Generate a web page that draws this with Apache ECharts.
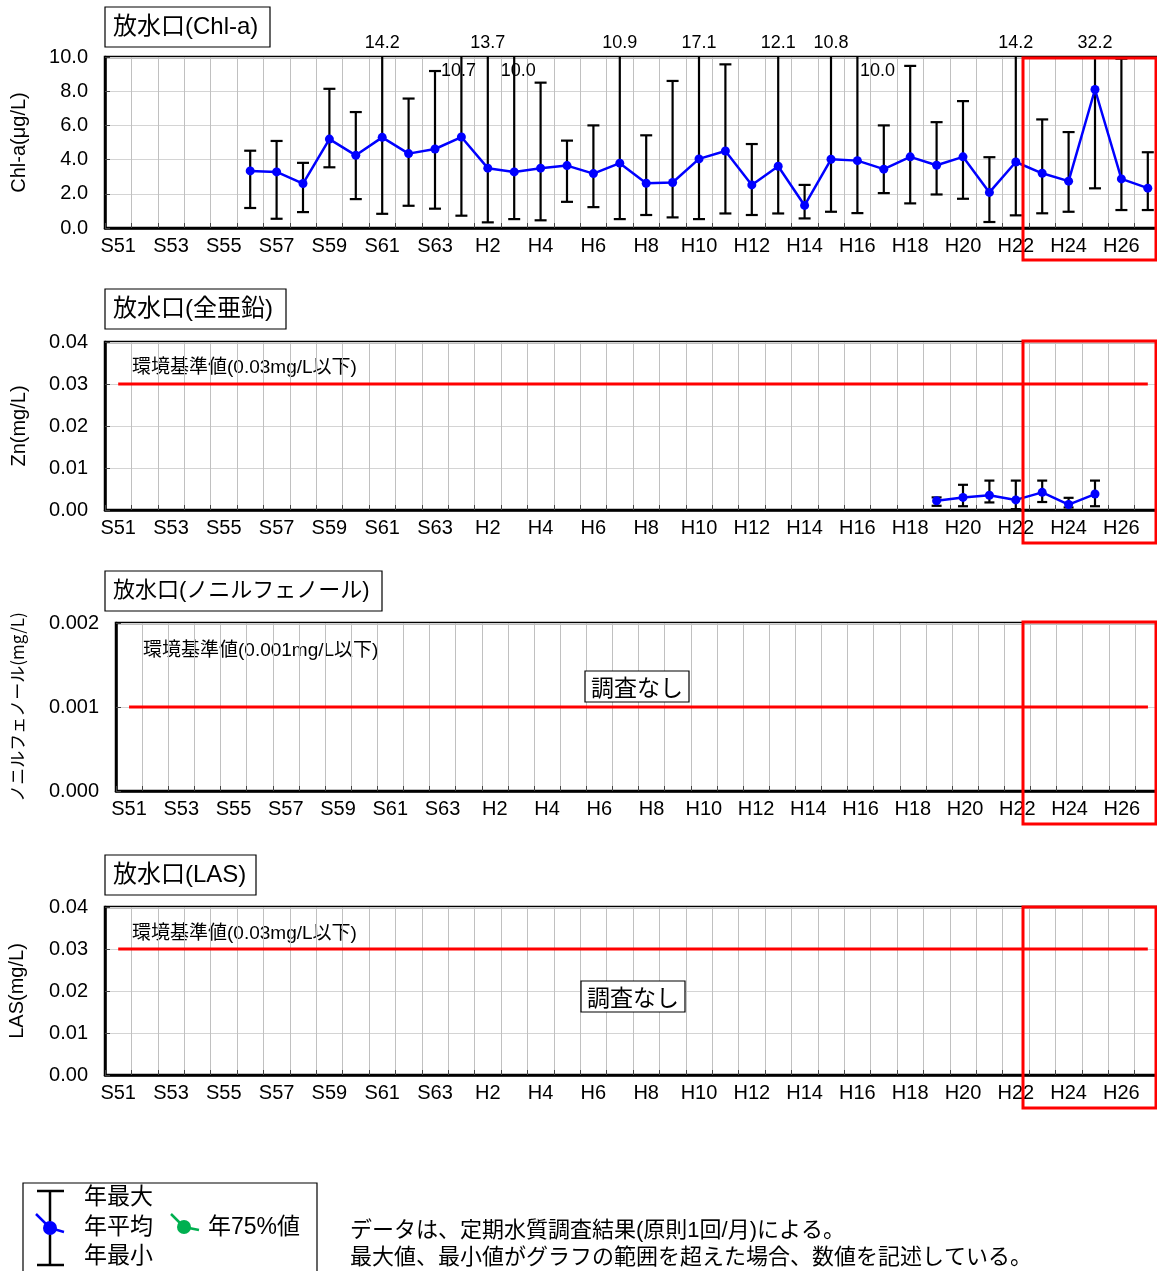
<!DOCTYPE html>
<html>
<head>
<meta charset="utf-8">
<script src="https://cdn.jsdelivr.net/npm/echarts@6/dist/echarts.min.js"></script>
<style>
html, body { margin: 0; padding: 0; background: #fff; overflow: hidden; }
#chart { width: 1162px; height: 1271px; }
</style>
</head>
<body>
<div id="chart"></div>
<script>
// fiscal years on the x axis
const categories = [
  'S51', 'S52', 'S53', 'S54', 'S55', 'S56', 'S57', 'S58', 'S59', 'S60', 'S61', 'S62', 'S63',
  'H1', 'H2', 'H3', 'H4', 'H5', 'H6', 'H7', 'H8', 'H9', 'H10', 'H11', 'H12', 'H13', 'H14',
  'H15', 'H16', 'H17', 'H18', 'H19', 'H20', 'H21', 'H22', 'H23', 'H24', 'H25', 'H26', 'H27',
];

// Chl-a (ug/L), S51..H27
const chlMean = [
  null, null, null, null, null, 3.34, 3.28, 2.60, 5.20, 4.25, 5.30, 4.35, 4.62,
  5.32, 3.50, 3.28, 3.50, 3.65, 3.18, 3.79, 2.62, 2.66, 4.04, 4.50, 2.52, 3.61, 1.32,
  4.02, 3.94, 3.44, 4.16, 3.67, 4.16, 2.08, 3.86, 3.20, 2.74, 8.10, 2.87, 2.33,
];
const chlMax = [
  null, null, null, null, null, 4.52, 5.09, 3.81, 8.14, 6.78, 14.2, 7.57, 9.18,
  10.7, 13.7, 10.0, 8.50, 5.11, 6.00, 10.9, 5.42, 8.60, 17.1, 9.57, 4.91, 12.1, 2.52,
  10.8, 10.0, 6.00, 9.48, 6.19, 7.42, 4.14, 14.2, 6.35, 5.61, 32.2, 9.90, 4.43,
];
const chlMin = [
  null, null, null, null, null, 1.17, 0.54, 0.93, 3.55, 1.69, 0.83, 1.30, 1.13,
  0.72, 0.33, 0.52, 0.45, 1.53, 1.22, 0.52, 0.76, 0.62, 0.52, 0.85, 0.76, 0.85, 0.56,
  0.95, 0.87, 2.04, 1.44, 1.96, 1.71, 0.35, 0.74, 0.86, 0.95, 2.32, 1.05, 1.05,
];
// max labels drawn inside the frame instead of above it (x shift in px)
const chlLabelInside = { H1: -3, H3: 4, H16: 20 };

// total zinc (mg/L), S51..H27
const znMean = [
  null, null, null, null, null, null, null, null, null, null, null, null, null,
  null, null, null, null, null, null, null, null, null, null, null, null, null, null,
  null, null, null, null, 0.0022, 0.0030, 0.0035, 0.0024, 0.0042, 0.0013, 0.0038, null, null,
];
const znMax = [
  null, null, null, null, null, null, null, null, null, null, null, null, null,
  null, null, null, null, null, null, null, null, null, null, null, null, null, null,
  null, null, null, null, 0.0030, 0.0060, 0.0070, 0.0070, 0.0070, 0.0029, 0.0070, null, null,
];
const znMin = [
  null, null, null, null, null, null, null, null, null, null, null, null, null,
  null, null, null, null, null, null, null, null, null, null, null, null, null, null,
  null, null, null, null, 0.0010, 0.0009, 0.0018, 0.0002, 0.0019, 0.0006, 0.0009, null, null,
];

// environmental standards: zinc, nonylphenol, LAS
const standardValues = [0.03, 0.001, 0.03];

const LATIN = "'Liberation Sans', 'Noto Sans CJK JP', sans-serif";
const JP = "'Noto Sans CJK JP', 'Liberation Sans', sans-serif";

const chart = echarts.init(document.getElementById('chart'));

const grids = [
  { left: 105, top: 57, right: 1, height: 171 },
  { left: 105, top: 342, right: 1, height: 168 },
  { left: 116, top: 623, right: 1, height: 168 },
  { left: 105, top: 907, right: 1, height: 168 },
];

const yCfg = [
  { max: 10, interval: 2, digits: 1, name: 'Chl-a(μg/L)', nameGap: 76, font: LATIN, size: 20 },
  { max: 0.04, interval: 0.01, digits: 2, name: 'Zn(mg/L)', nameGap: 76, font: LATIN, size: 20 },
  { max: 0.002, interval: 0.001, digits: 3, name: 'ノニルフェノール(mg/L)', nameGap: 90, font: JP, size: 17 },
  { max: 0.04, interval: 0.01, digits: 2, name: 'LAS(mg/L)', nameGap: 78, font: LATIN, size: 20 },
];

function errorBars(idx, mins, maxs, axisMax, capHalf, insideLabels) {
  const data = [];
  categories.forEach((c, i) => {
    if (mins[i] != null) data.push([i, mins[i], maxs[i]]);
  });
  return {
    type: 'custom',
    xAxisIndex: idx,
    yAxisIndex: idx,
    z: 2,
    clip: false,
    silent: true,
    data,
    encode: { x: 0, y: [1, 2] },
    renderItem(params, api) {
      const i = api.value(0);
      const lo = api.value(1);
      const hi = api.value(2);
      const top = api.coord([i, Math.min(hi, axisMax)]);
      const bot = api.coord([i, lo]);
      const x = top[0];
      const st = { stroke: '#000', lineWidth: 2.2 };
      const children = [
        { type: 'line', shape: { x1: x, y1: top[1], x2: x, y2: bot[1] }, style: st },
        { type: 'line', shape: { x1: x - capHalf, y1: bot[1], x2: x + capHalf, y2: bot[1] }, style: st },
      ];
      if (hi < axisMax) {
        children.push({ type: 'line', shape: { x1: x - capHalf, y1: top[1], x2: x + capHalf, y2: top[1] }, style: st });
      } else {
        const cat = categories[i];
        const inside = insideLabels && cat in insideLabels;
        children.push({
          type: 'text',
          x: x + (inside ? insideLabels[cat] : 0),
          y: inside ? top[1] + 14 : top[1] - 14,
          style: {
            text: hi.toFixed(1),
            fill: '#000',
            font: '18px ' + LATIN,
            align: 'center',
            verticalAlign: 'middle',
          },
        });
      }
      return { type: 'group', children };
    },
  };
}

function meanLine(idx, values) {
  return {
    type: 'line',
    xAxisIndex: idx,
    yAxisIndex: idx,
    z: 3,
    data: values,
    symbol: 'circle',
    symbolSize: 9,
    showSymbol: true,
    connectNulls: false,
    lineStyle: { color: '#0000FF', width: 2.5 },
    itemStyle: { color: '#0000FF' },
    silent: true,
  };
}

function standardLine(idx, value) {
  return {
    type: 'line',
    xAxisIndex: idx,
    yAxisIndex: idx,
    z: 3,
    data: categories.map(() => value),
    symbol: 'none',
    lineStyle: { color: '#FF0000', width: 3 },
    silent: true,
  };
}

function titleBox(x, y, w, text, size) {
  return [
    { type: 'rect', shape: { x, y, width: w, height: 40 }, style: { fill: '#fff', stroke: '#000', lineWidth: 1.2 } },
    { type: 'text', x: x + 8, y: y + 20, style: { text, font: size + 'px ' + LATIN, fill: '#000', verticalAlign: 'middle' } },
  ];
}

function plainText(x, y, text, size) {
  return { type: 'text', x, y, style: { text, font: size + 'px ' + LATIN, fill: '#000', verticalAlign: 'middle' } };
}

function noSurveyBox(cx, cy) {
  return [
    { type: 'rect', shape: { x: cx - 52, y: cy - 15, width: 104, height: 31 }, style: { fill: '#fff', stroke: '#000', lineWidth: 1.2 }, z: 50 },
    { type: 'text', x: cx, y: cy + 1, style: { text: '調査なし', font: '23px ' + JP, fill: '#000', align: 'center', verticalAlign: 'middle' }, z: 51 },
  ];
}

function redBox(y, h) {
  return { type: 'rect', shape: { x: 1023, y, width: 133, height: h }, style: { fill: 'none', stroke: '#FF0000', lineWidth: 3 }, z: 100 };
}

const option = {
  animation: false,
  backgroundColor: '#fff',
  grid: grids.map((g) => ({
    ...g,
    show: true,
    outerBoundsMode: 'none',
    containLabel: false,
    borderColor: '#000',
    borderWidth: 2.5,
    backgroundColor: '#fff',
  })),
  xAxis: grids.map((g, idx) => ({
    type: 'category',
    gridIndex: idx,
    data: categories,
    boundaryGap: true,
    axisLine: { lineStyle: { color: '#000', width: 2.5 } },
    axisTick: { show: true, inside: true, length: 5, interval: 0, lineStyle: { color: '#444' } },
    axisLabel: { interval: 1, color: '#000', fontSize: 20, fontFamily: LATIN, margin: 8 },
    splitLine: { show: true, interval: 0, lineStyle: { color: '#c0c0c0', width: 1 } },
  })),
  yAxis: yCfg.map((c, idx) => ({
    type: 'value',
    gridIndex: idx,
    min: 0,
    max: c.max,
    interval: c.interval,
    name: c.name,
    nameLocation: 'middle',
    nameGap: c.nameGap,
    nameRotate: 90,
    nameTextStyle: { color: '#000', fontSize: c.size, fontFamily: c.font },
    axisLine: { show: true, lineStyle: { color: '#000', width: 2.5 } },
    axisTick: { show: true, inside: true, length: 5, lineStyle: { color: '#444' } },
    axisLabel: {
      color: '#000',
      fontSize: 20,
      fontFamily: LATIN,
      margin: 17,
      formatter: (v) => v.toFixed(c.digits),
    },
    splitLine: { show: true, lineStyle: { color: '#d4d4d4', width: 1 } },
  })),
  series: [
    errorBars(0, chlMin, chlMax, 10, 6, chlLabelInside),
    meanLine(0, chlMean),
    standardLine(1, standardValues[0]),
    errorBars(1, znMin, znMax, 0.04, 5, null),
    meanLine(1, znMean),
    standardLine(2, standardValues[1]),
    standardLine(3, standardValues[2]),
  ],
  graphic: [
    ...titleBox(105, 7, 165, '放水口(Chl-a)', 24),
    ...titleBox(105, 289, 181, '放水口(全亜鉛)', 24),
    ...titleBox(105, 571, 277, '放水口(ノニルフェノール)', 22),
    ...titleBox(105, 855, 151, '放水口(LAS)', 24),
    plainText(132, 368, '環境基準値(0.03mg/L以下)', 19),
    plainText(143, 651, '環境基準値(0.001mg/L以下)', 19),
    plainText(132, 934, '環境基準値(0.03mg/L以下)', 19),
    ...noSurveyBox(637, 686),
    ...noSurveyBox(633, 996),
    redBox(58, 202),
    redBox(341, 202),
    redBox(622, 202),
    redBox(907, 201),
    // legend
    { type: 'rect', shape: { x: 23, y: 1183, width: 294, height: 100 }, style: { fill: '#fff', stroke: '#000', lineWidth: 1.2 } },
    { type: 'line', shape: { x1: 50, y1: 1191, x2: 50, y2: 1265 }, style: { stroke: '#000', lineWidth: 2.5 } },
    { type: 'line', shape: { x1: 37, y1: 1191, x2: 64, y2: 1191 }, style: { stroke: '#000', lineWidth: 2.5 } },
    { type: 'line', shape: { x1: 37, y1: 1265, x2: 64, y2: 1265 }, style: { stroke: '#000', lineWidth: 2.5 } },
    { type: 'polyline', shape: { points: [[36, 1214], [50, 1228], [64, 1232]] }, style: { stroke: '#0000FF', lineWidth: 2.5, fill: 'none' } },
    { type: 'circle', shape: { cx: 50, cy: 1228, r: 7 }, style: { fill: '#0000FF' } },
    { type: 'polyline', shape: { points: [[171, 1214], [184, 1227], [199, 1230]] }, style: { stroke: '#00B050', lineWidth: 2.5, fill: 'none' } },
    { type: 'circle', shape: { cx: 184, cy: 1227, r: 7 }, style: { fill: '#00B050' } },
    plainText(84, 1198, '年最大', 23),
    plainText(84, 1228, '年平均', 23),
    plainText(84, 1257, '年最小', 23),
    plainText(208, 1228, '年75%値', 23),
    // notes
    plainText(350, 1231, 'データは、定期水質調査結果(原則1回/月)による。', 22),
    plainText(350, 1258, '最大値、最小値がグラフの範囲を超えた場合、数値を記述している。', 22),
  ],
};

chart.setOption(option);
</script>
</body>
</html>
